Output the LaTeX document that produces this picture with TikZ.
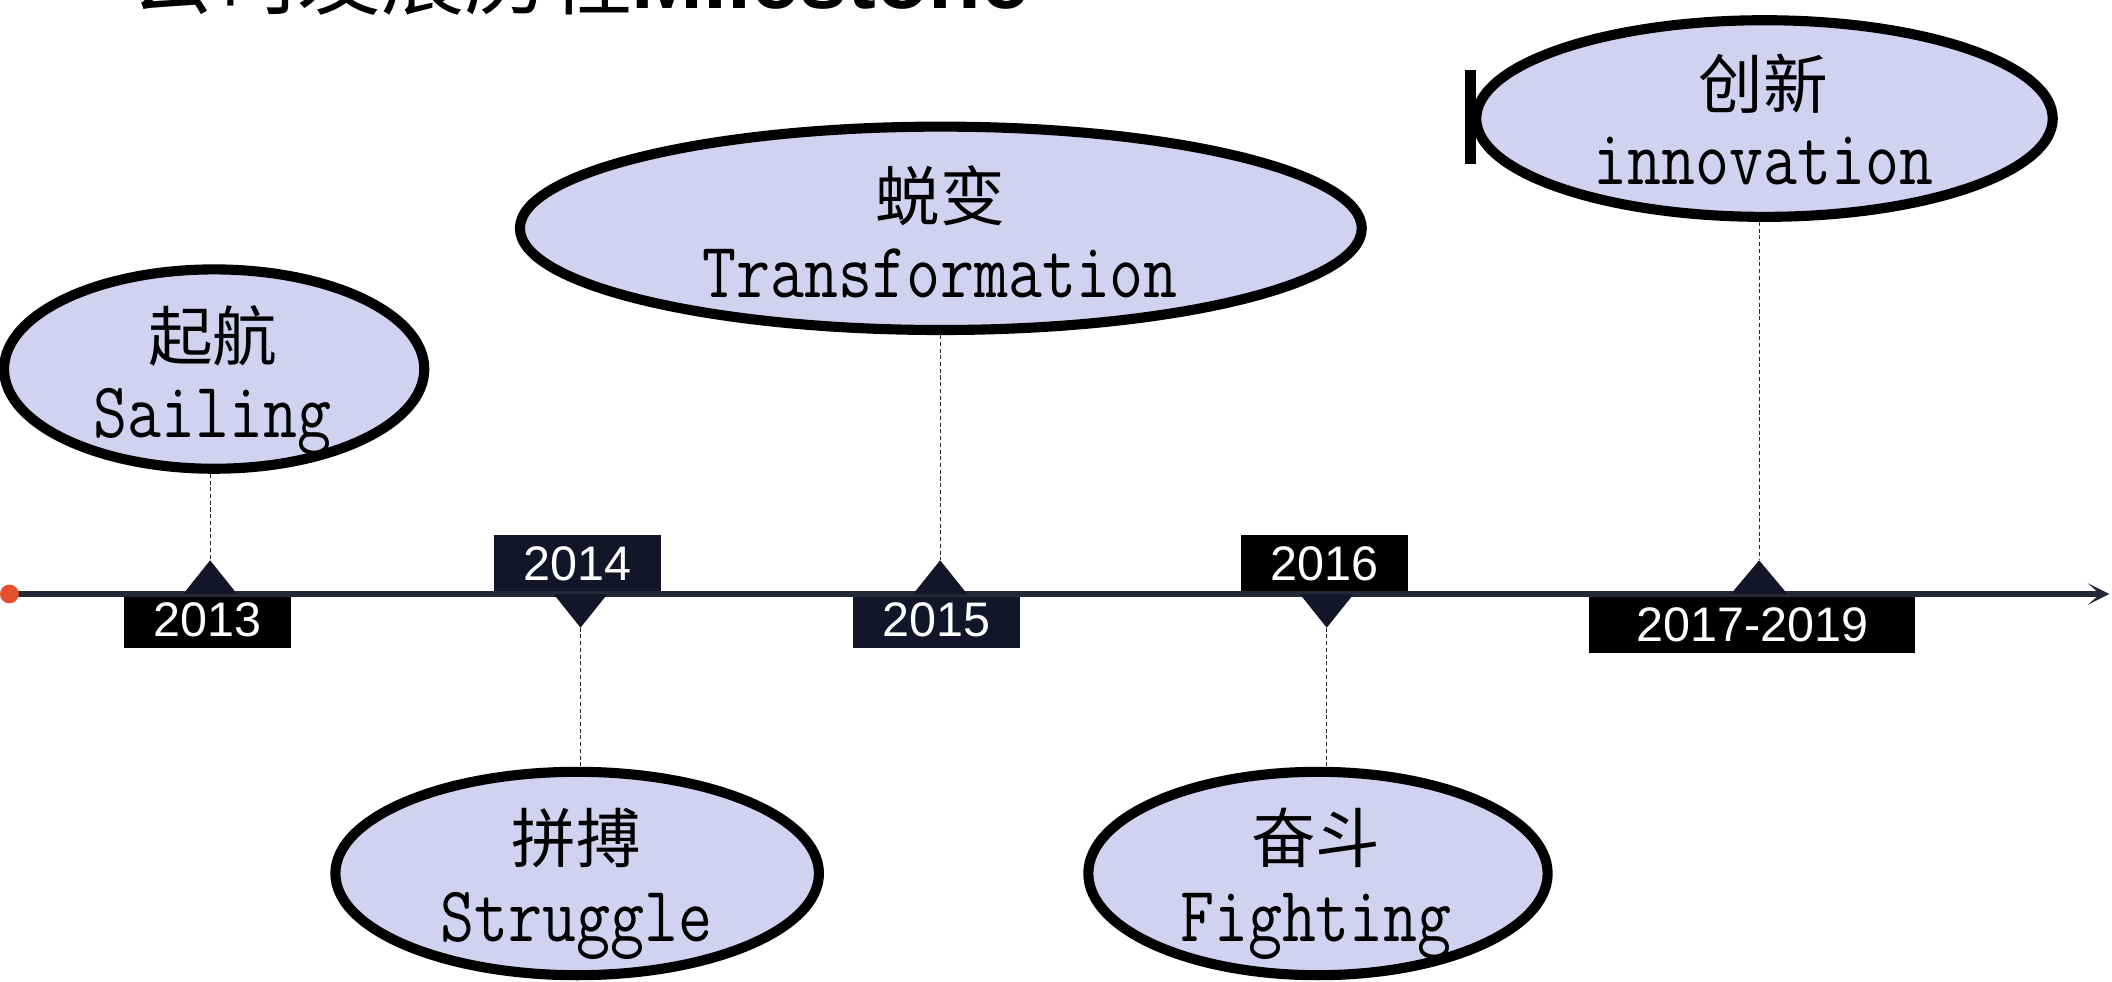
\documentclass[tikz,border=0pt]{standalone}
\usepackage{fontspec}
\usepackage{graphicx}
\newfontfamily\cjk{Noto Sans CJK SC}
\newfontfamily\arialf{Liberation Sans}
\usetikzlibrary{shapes.geometric,arrows.meta}
\definecolor{lav}{HTML}{D1D2EF}
\definecolor{navy}{HTML}{141528}
\definecolor{axisc}{HTML}{252A37}
\definecolor{dotred}{HTML}{E84E30}
\newcommand{\entxt}[1]{\scalebox{1.02}[1.22]{#1}}
\begin{document}
\begin{tikzpicture}[x=1pt,y=-1pt,
  ms/.style={ellipse, draw=black, line width=7.5pt, fill=lav, inner sep=0pt},
  cn/.style={font=\cjk\fontsize{48}{48}\selectfont, inner sep=0pt},
  en/.style={font=\ttfamily\fontsize{48}{48}\selectfont, inner sep=0pt, anchor=base},
  yr/.style={text=white, font=\arialf\fontsize{36}{36}\selectfont, inner sep=0pt, minimum width=124pt, minimum height=42pt},
  tri/.style={fill=navy},
  lead/.style={dash pattern=on 3pt off 2pt, line width=0.9pt, draw=axisc}]

\useasboundingbox (0,0) rectangle (1568,729);
\clip (0,0) rectangle (1568,729);

% title (cut off at top, as in the reference)
\node[anchor=base west, inner sep=0pt] (title) at (97,6)
  {{\cjk\fontsize{62}{62}\selectfont 公司发展历程}{\arialf\bfseries\fontsize{64}{64}\selectfont Milestone}};

% ellipses
\node[ms, minimum width=312pt, minimum height=148pt] (sail) at (159,274) {};
\node[ms, minimum width=625pt, minimum height=151pt] (trans) at (698.5,169.5) {};
\node[ms, minimum width=428pt, minimum height=146pt] (innov) at (1310,88) {};
\node[ms, minimum width=359pt, minimum height=151pt] (strug) at (428.5,648.5) {};
\node[ms, minimum width=341pt, minimum height=151pt] (fight) at (978.5,648.5) {};
\fill[black] (1088,52) rectangle (1096,122);

% labels
\node[cn] (sailcn) at (158,249) {起航};
\node[en] (sailen) at (158,325) {\entxt{Sailing}};
\node[cn] (transcn) at (698,145) {蜕变};
\node[en] (transen) at (698,221) {\entxt{Transformation}};
\node[cn] (innovcn) at (1309,62) {创新};
\node[en] (innoven) at (1309,137) {\entxt{innovation}};
\node[cn] (strugcn) at (428,622) {拼搏};
\node[en] (strugen) at (428,699) {\entxt{Struggle}};
\node[cn] (fightcn) at (977,622) {奋斗};
\node[en] (fighten) at (977,699) {\entxt{Fighting}};

% year boxes
\node[yr, fill=black] (y13) at (154,460) {2013};
\node[yr, fill=navy] (y14) at (428.5,418.5) {2014};
\node[yr, fill=navy] (y15) at (695.5,460) {2015};
\node[yr, fill=black] (y16) at (983,418.5) {2016};
\node[yr, fill=black, minimum width=242pt] (y17) at (1301,464) {2017-2019};

% axis
\coordinate (start) at (7,441);
\coordinate (end) at (1566,441);
\draw[axisc, line width=4pt, -{Stealth[length=16pt,width=16pt,inset=9pt]}] (start) -- (end);
\node[circle, fill=dotred, minimum size=14pt, inner sep=0pt] (dot) at (start) {};

% markers
\coordinate (t13) at (156,416);
\coordinate (t14) at (431,466);
\coordinate (t15) at (698,416);
\coordinate (t16) at (985,466);
\coordinate (t17) at (1306,416);
\fill[tri] (136,441) -- (t13) -- (176,441) -- cycle;
\fill[tri] (411,441) -- (t14) -- (451,441) -- cycle;
\fill[tri] (678,441) -- (t15) -- (718,441) -- cycle;
\fill[tri] (965,441) -- (t16) -- (1005,441) -- cycle;
\fill[tri] (1285,441) -- (t17) -- (1327,441) -- cycle;

% leaders
\draw[lead] (sail.south -| t13) -- (t13);
\draw[lead] (trans.south -| t15) -- (t15);
\draw[lead] (innov.south -| t17) -- (t17);
\draw[lead] (t14) -- (strug.north -| t14);
\draw[lead] (t16) -- (fight.north -| t16);
\end{tikzpicture}
\end{document}
